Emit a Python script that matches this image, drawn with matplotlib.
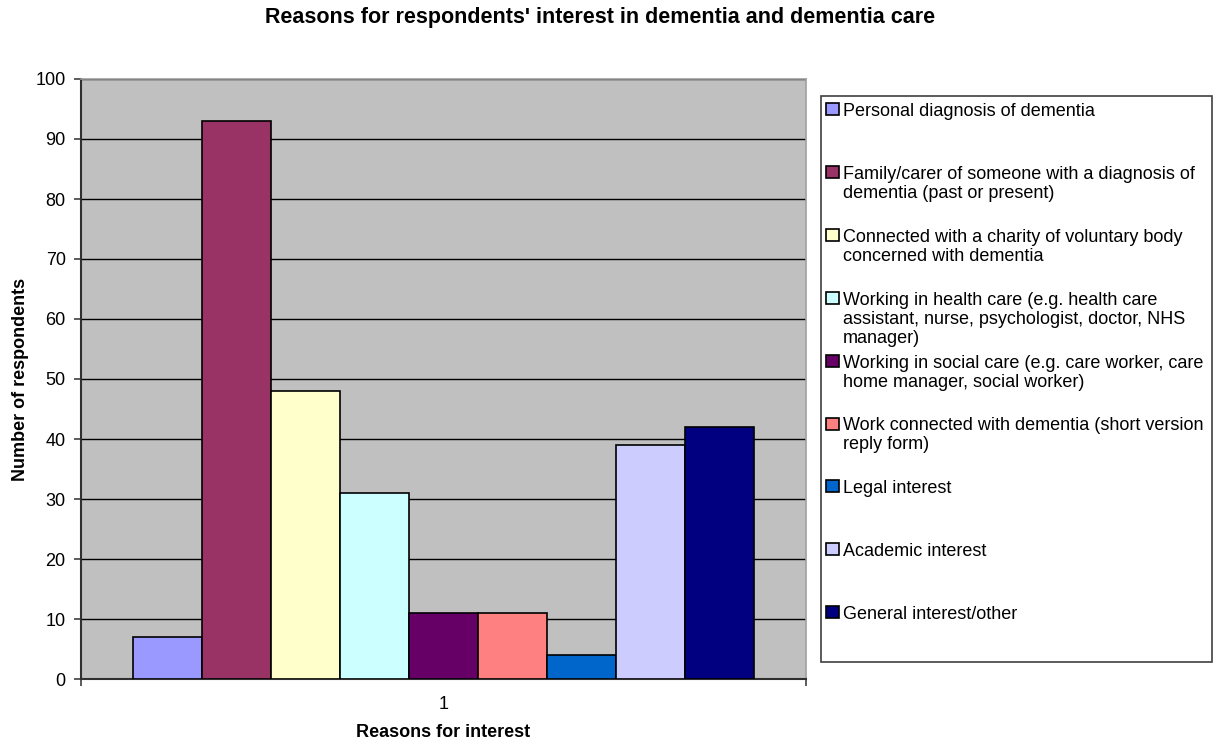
import matplotlib
matplotlib.use('Agg')
import matplotlib.pyplot as plt
from matplotlib.patches import Rectangle

categories = [
    'Personal diagnosis of dementia',
    'Family/carer of someone with a diagnosis of\ndementia (past or present)',
    'Connected with a charity of voluntary body\nconcerned with dementia',
    'Working in health care (e.g. health care\nassistant, nurse, psychologist, doctor, NHS\nmanager)',
    'Working in social care (e.g. care worker, care\nhome manager, social worker)',
    'Work connected with dementia (short version\nreply form)',
    'Legal interest',
    'Academic interest',
    'General interest/other',
]
respondents = [7, 93, 48, 31, 11, 11, 4, 39, 42]
colors = ['#9999FF', '#993366', '#FFFFCC', '#CCFFFF', '#660066',
          '#FF8080', '#0066CC', '#CCCCFF', '#000080']

plt.rcParams['font.family'] = ['Liberation Sans', 'DejaVu Sans']

W, H = 1218, 740
fig = plt.figure(figsize=(W / 100, H / 100), dpi=100)

# plot area in pixels: x 81..806, y 79..679
ax = fig.add_axes([81 / W, (H - 679) / H, (806 - 81) / W, (679 - 79) / H])
ax.set_facecolor('#C0C0C0')

bar_w = 0.0953
n = len(respondents)
for i, (v, c) in enumerate(zip(respondents, colors)):
    x = 1 + (i - (n - 1) / 2) * bar_w
    ax.bar(x, v, width=bar_w, color=c, edgecolor='black', linewidth=1.2, zorder=3)

ax.set_xlim(0.5, 1.5)
ax.set_ylim(0, 100)
ax.set_yticks(range(0, 101, 10))
ax.set_xticks([1])
ax.set_xticklabels(['1'])
ax.set_xticks([0.5, 1.5], minor=True)
ax.tick_params(axis='x', which='major', length=0, pad=12, labelsize=13)
ax.tick_params(axis='x', which='minor', length=5, width=1.2, color='#404040')
ax.tick_params(axis='y', length=5, width=1.2, color='#404040', pad=6, labelsize=13)
ax.grid(axis='y', color='black', linewidth=1, zorder=1)
ax.set_axisbelow(True)

for side in ['top', 'right']:
    ax.spines[side].set_color('#A0A0A0')
    ax.spines[side].set_linewidth(1.2)
for side in ['left', 'bottom']:
    ax.spines[side].set_color('#303030')
    ax.spines[side].set_linewidth(1.5)

ax.set_xlabel('Reasons for interest', fontsize=13, fontweight='bold', labelpad=8)
ax.set_ylabel('Number of respondents', fontsize=13, fontweight='bold', labelpad=5)

fig.text(600 / W, 1 - 18 / H,
         "Reasons for respondents' interest in dementia and dementia care",
         ha='center', va='center', fontsize=15.5, fontweight='bold')

# legend box drawn by hand so the entries keep Excel's even pitch
fig.patches.append(Rectangle((821 / W, 1 - 662 / H), (1212 - 821) / W, (662 - 96) / H,
                             transform=fig.transFigure, facecolor='white',
                             edgecolor='#404040', linewidth=1.2))
first_y = 109
pitch = 62.9
for i, (label, c) in enumerate(zip(categories, colors)):
    yc = first_y + i * pitch
    fig.patches.append(Rectangle((826 / W, 1 - (yc + 6) / H), 13 / W, 12 / H,
                                 transform=fig.transFigure, facecolor=c,
                                 edgecolor='black', linewidth=1.2))
    fig.text(843 / W, 1 - (yc - 6) / H, label, ha='left', va='top',
             fontsize=13, linespacing=1.15)

fig.savefig('out.png', dpi=100)
